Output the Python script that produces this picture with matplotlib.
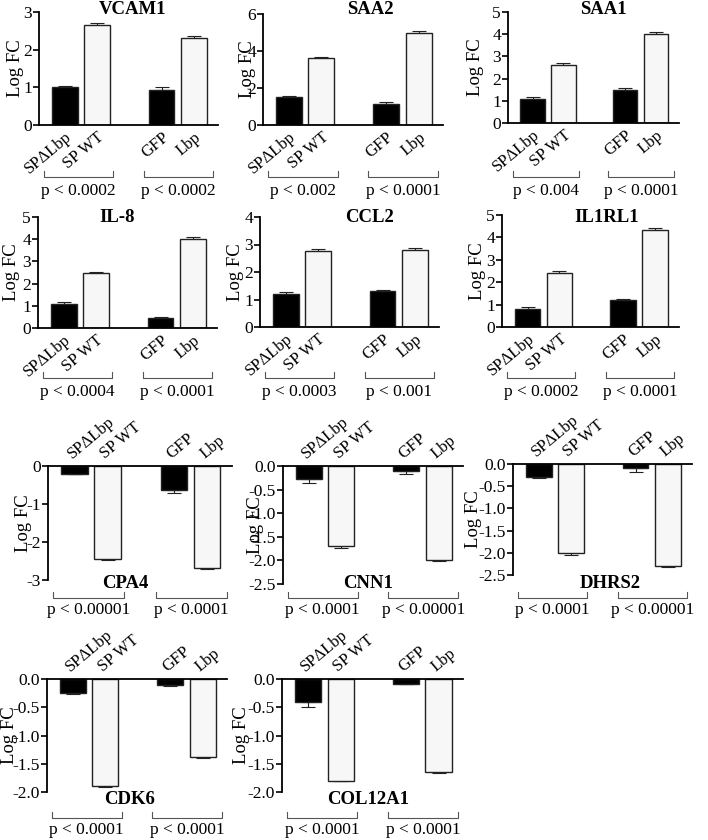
import matplotlib
matplotlib.use('Agg')
import matplotlib.pyplot as plt
from matplotlib.transforms import blended_transform_factory

plt.rcParams['font.family'] = 'serif'
plt.rcParams['font.serif'] = ['Liberation Serif', 'DejaVu Serif']

####### ------- data -----------------------------------------------
genes = ['VCAM1', 'SAA2', 'SAA1', 'IL-8', 'CCL2', 'IL1RL1',
         'CPA4', 'CNN1', 'DHRS2', 'CDK6', 'COL12A1']
conditions = ['SP\u0394Lbp', 'SP WT', 'GFP', 'Lbp']

log_fc = [[1.0, 2.65, 0.93, 2.3],
          [1.5, 3.6, 1.15, 5.0],
          [1.1, 2.6, 1.5, 4.0],
          [1.1, 2.47, 0.43, 4.0],
          [1.2, 2.78, 1.3, 2.8],
          [0.8, 2.4, 1.2, 4.33],
          [-0.2, -2.45, -0.62, -2.68],
          [-0.28, -1.7, -0.1, -2.0],
          [-0.3, -2.0, -0.1, -2.3],
          [-0.25, -1.9, -0.1, -1.38],
          [-0.4, -1.8, -0.08, -1.65]]

fc_err = [[0.03, 0.05, 0.07, 0.06],
          [0.08, 0.06, 0.1, 0.08],
          [0.08, 0.1, 0.07, 0.08],
          [0.08, 0.06, 0.06, 0.1],
          [0.08, 0.06, 0.04, 0.08],
          [0.08, 0.08, 0.05, 0.08],
          [0.02, 0.02, 0.1, 0.03],
          [0.07, 0.04, 0.08, 0.01],
          [0.01, 0.04, 0.07, 0.01],
          [0.02, 0.01, 0.03, 0.02],
          [0.09, 0.01, 0.01, 0.02]]

p_sp = ['p < 0.0002', 'p < 0.002', 'p < 0.004', 'p < 0.0004', 'p < 0.0003', 'p < 0.0002',
        'p < 0.00001', 'p < 0.0001', 'p < 0.0001', 'p < 0.0001', 'p < 0.0001']
p_lbp = ['p < 0.0002', 'p < 0.0001', 'p < 0.0001', 'p < 0.0001', 'p < 0.001', 'p < 0.0001',
         'p < 0.0001', 'p < 0.00001', 'p < 0.00001', 'p < 0.0001', 'p < 0.0001']

y_ticks = [[0, 1, 2, 3], [0, 2, 4, 6], [0, 1, 2, 3, 4, 5],
           [0, 1, 2, 3, 4, 5], [0, 1, 2, 3, 4], [0, 1, 2, 3, 4, 5],
           [0, -1, -2, -3],
           [0, -0.5, -1.0, -1.5, -2.0, -2.5], [0, -0.5, -1.0, -1.5, -2.0, -2.5],
           [0, -0.5, -1.0, -1.5, -2.0], [0, -0.5, -1.0, -1.5, -2.0]]

####### ------- layout (figure pixels) -----------------------------
W, H = 708, 840
## (left, right, top, bottom, row, title x, ylabel centre offset)
boxes = [(39, 218, 12, 125, 0, 133, 24), (263, 443, 14, 125, 0, 370, 15), (508, 679, 12, 123, 0, 603, 33),
         (38, 217, 217, 328, 1, 117, 26), (260, 439, 217, 327, 1, 370, 24), (502, 679, 215, 327, 1, 607, 24),
         (48, 232, 466, 580, 2, 125, 25), (283, 463, 466, 584, 2, 368, 28), (513, 692, 464, 575, 2, 610, 39),
         (47, 227, 679, 792, 3, 130, 38), (282, 463, 679, 792, 3, 368, 40)]
row_title_y = [10, 217, 583, 800]
row_bracket_y = [177, 378, 598, 818]
row_text_y = [191, 392, 610, 830]

xpos = [0, 1, 3, 4]
bar_colors = ['black', '#f7f7f7', 'black', '#f7f7f7']
brackets = [(-0.65, 1.5), (2.45, 4.6)]

fig = plt.figure(figsize=(W / 100, H / 100), dpi=100)

for i, gene in enumerate(genes):
    x0, x1, yt, yb, row, tx, yoff = boxes[i]
    ax = fig.add_axes([x0 / W, 1 - yb / H, (x1 - x0) / W, (yb - yt) / H])
    vals = log_fc[i]
    errs = fc_err[i]
    negative = vals[0] < 0

    ax.bar(xpos, vals, width=0.8, color=bar_colors, edgecolor='#222222', linewidth=1.0, zorder=2)
    zeros = [0] * len(errs)
    yerr = [errs, zeros] if negative else [zeros, errs]
    ax.errorbar(xpos, vals, yerr=yerr, fmt='none', ecolor='#222222',
                elinewidth=0.8, capsize=5, capthick=0.8, zorder=1)

    ax.set_xlim(-0.8, 4.75)
    ticks = y_ticks[i]
    ax.set_yticks(ticks)
    if all(float(t).is_integer() for t in ticks):
        ax.set_yticklabels([f'{int(t):d}' for t in ticks])
    else:
        ax.set_yticklabels([f'{t:.1f}' for t in ticks])
    ax.set_ylim(min(ticks), max(ticks))

    ax.set_xticks(xpos)
    ax.spines['right'].set_visible(False)
    ax.spines['left'].set_linewidth(1.3)
    if negative:
        ax.spines['bottom'].set_visible(False)
        ax.spines['top'].set_linewidth(1.3)
        ax.xaxis.tick_top()
        ax.set_xticklabels(conditions, rotation=40, ha='left', va='bottom',
                           rotation_mode='anchor', fontsize=12)
    else:
        ax.spines['top'].set_visible(False)
        ax.spines['bottom'].set_linewidth(1.3)
        ax.set_xticklabels(conditions, rotation=40, ha='right', va='top',
                           rotation_mode='anchor', fontsize=12)
    ax.tick_params(axis='x', length=0, pad=3)
    ax.tick_params(axis='y', direction='out', length=4, width=1.2, labelsize=12.5, pad=1)
    ax.set_ylabel('Log FC', fontsize=13.5, va='center')
    ax.yaxis.set_label_coords(-yoff / (x1 - x0), 0.5)
    ax.set_facecolor('none')

    ## title
    fig.text(tx / W, 1 - row_title_y[row] / H, gene, fontsize=13.5, fontweight='bold',
             ha='center', va='center')

    ## brackets and p values
    trans = blended_transform_factory(ax.transData, fig.transFigure)
    yl = 1 - row_bracket_y[row] / H
    yu = 1 - (row_bracket_y[row] - 6) / H
    for (bl, br), ptxt in zip(brackets, [p_sp[i], p_lbp[i]]):
        ax.plot([bl, bl, br, br], [yu, yl, yl, yu], transform=trans, color='#555555',
                lw=0.8, clip_on=False)
        ax.text((bl + br) / 2, 1 - row_text_y[row] / H, ptxt, transform=trans,
                fontsize=12.5, ha='center', va='center')

fig.savefig('out.png', dpi=100)
